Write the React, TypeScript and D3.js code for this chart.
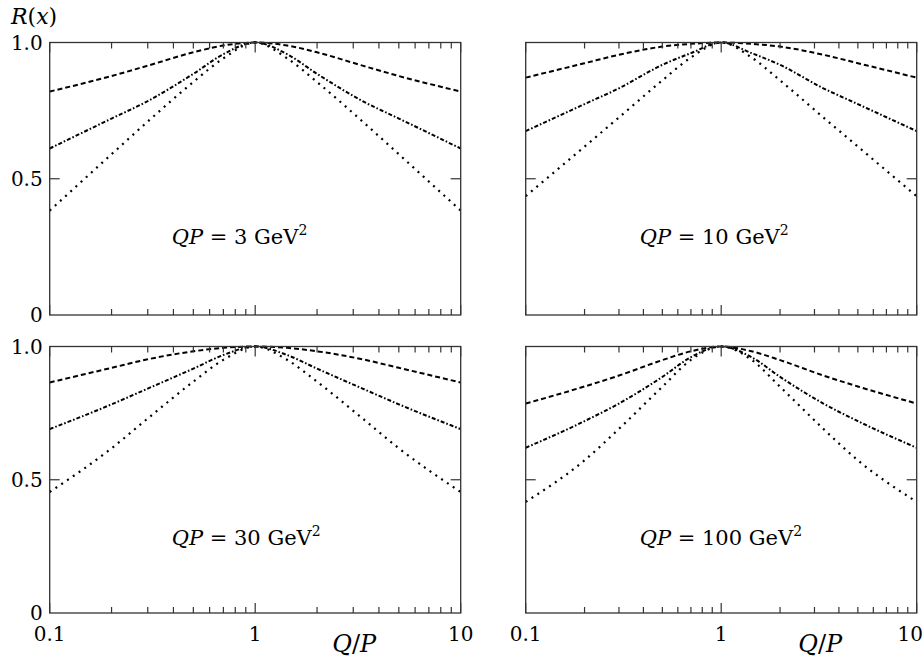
import React, { useEffect, useRef } from "react"
import * as d3 from "d3"

// Q/P sample points (symmetric around 1 on the log axis)
const qOverP = [0.1, 0.2, 0.3, 0.5, 0.7, 1, 1.43, 2, 3.33, 5, 10]
const qpValues = [3, 10, 30, 100]

// QP = 3 GeV^2
const dashed3 = [0.82, 0.877, 0.915, 0.964, 0.989, 1.0, 0.989, 0.964, 0.915, 0.877, 0.82]
const dashDot3 = [0.611, 0.721, 0.785, 0.885, 0.957, 1.0, 0.957, 0.885, 0.785, 0.721, 0.611]
const dotted3 = [0.383, 0.59, 0.71, 0.855, 0.942, 1.0, 0.942, 0.855, 0.71, 0.59, 0.383]

// QP = 10 GeV^2
const dashed10 = [0.871, 0.924, 0.955, 0.985, 0.995, 1.0, 0.995, 0.985, 0.955, 0.924, 0.871]
const dashDot10 = [0.675, 0.774, 0.832, 0.918, 0.961, 1.0, 0.961, 0.918, 0.832, 0.774, 0.675]
const dotted10 = [0.436, 0.618, 0.725, 0.861, 0.945, 1.0, 0.945, 0.861, 0.725, 0.618, 0.436]

// QP = 30 GeV^2
const dashed30 = [0.865, 0.92, 0.952, 0.982, 0.995, 1.0, 0.995, 0.982, 0.952, 0.92, 0.865]
const dashDot30 = [0.69, 0.783, 0.842, 0.917, 0.968, 1.0, 0.968, 0.917, 0.842, 0.783, 0.69]
const dotted30 = [0.454, 0.618, 0.73, 0.868, 0.95, 1.0, 0.95, 0.868, 0.73, 0.618, 0.454]

// QP = 100 GeV^2
const dashed100 = [0.786, 0.85, 0.891, 0.949, 0.982, 1.0, 0.982, 0.949, 0.891, 0.85, 0.786]
const dashDot100 = [0.62, 0.72, 0.786, 0.886, 0.96, 1.0, 0.96, 0.886, 0.786, 0.72, 0.62]
const dotted100 = [0.417, 0.573, 0.691, 0.849, 0.95, 1.0, 0.95, 0.849, 0.691, 0.573, 0.417]

const yTickValues = [0, 0.5, 1.0]
const yTickLabels = ["0", "0.5", "1.0"]
const xTickValues = [0.1, 1, 10]
const xTickLabels = ["0.1", "1", "10"]

const FONT = "'DejaVu Serif', 'Liberation Serif', serif"

const App = () => {
  const ref = useRef<SVGSVGElement>(null)

  useEffect(() => {
    const svg = d3.select(ref.current)
    svg.selectAll("*").remove()

    const panels = [
      { qp: qpValues[0], series: [dashed3, dashDot3, dotted3], x0: 49.7, x1: 460.7, y0: 42.5, y1: 315, left: true, bottom: false },
      { qp: qpValues[1], series: [dashed10, dashDot10, dotted10], x0: 525.7, x1: 916.7, y0: 42.5, y1: 315, left: false, bottom: false },
      { qp: qpValues[2], series: [dashed30, dashDot30, dotted30], x0: 49.7, x1: 460.7, y0: 346.5, y1: 613, left: true, bottom: true },
      { qp: qpValues[3], series: [dashed100, dashDot100, dotted100], x0: 525.7, x1: 916.7, y0: 346.5, y1: 613, left: false, bottom: true },
    ]

    const styles = [
      { dash: "5,3", w: 2 },
      { dash: "4,2,1.6,2", w: 2 },
      { dash: "2,5", w: 2.2 },
    ]

    panels.forEach((p) => {
      const x = d3.scaleLog().domain([0.1, 10]).range([p.x0, p.x1])
      const y = d3.scaleLinear().domain([0, 1]).range([p.y1, p.y0])
      const g = svg.append("g")

      // curves
      const line = d3
        .line<number>()
        .x((_, i) => x(qOverP[i]))
        .y((d) => y(d))
        .curve(d3.curveMonotoneX)

      p.series.forEach((s, i) => {
        g.append("path")
          .attr("d", line(s))
          .attr("fill", "none")
          .attr("stroke", "#000")
          .attr("stroke-width", styles[i].w)
          .attr("stroke-dasharray", styles[i].dash)
      })

      // frame
      g.append("rect")
        .attr("x", p.x0)
        .attr("y", p.y0)
        .attr("width", p.x1 - p.x0)
        .attr("height", p.y1 - p.y0)
        .attr("fill", "none")
        .attr("stroke", "#333")
        .attr("stroke-width", 1.3)

      // log ticks on top and bottom, inward
      x.ticks().forEach((t) => {
        const major = Math.abs(Math.log10(t) - Math.round(Math.log10(t))) < 1e-9
        const len = major ? 10 : 6
        const tx = x(t)
        g.append("line")
          .attr("x1", tx).attr("x2", tx)
          .attr("y1", p.y1).attr("y2", p.y1 - len)
          .attr("stroke", "#333").attr("stroke-width", 1.2)
        g.append("line")
          .attr("x1", tx).attr("x2", tx)
          .attr("y1", p.y0).attr("y2", p.y0 + len)
          .attr("stroke", "#333").attr("stroke-width", 1.2)
      })

      // y tick at 0.5 on both sides
      const ty = y(0.5)
      g.append("line")
        .attr("x1", p.x0).attr("x2", p.x0 + 10)
        .attr("y1", ty).attr("y2", ty)
        .attr("stroke", "#333").attr("stroke-width", 1.2)
      g.append("line")
        .attr("x1", p.x1).attr("x2", p.x1 - 10)
        .attr("y1", ty).attr("y2", ty)
        .attr("stroke", "#333").attr("stroke-width", 1.2)

      // y labels
      if (p.left) {
        yTickValues.forEach((v, i) => {
          g.append("text")
            .attr("x", p.x0 - 7)
            .attr("y", y(v))
            .attr("dy", "0.36em")
            .attr("text-anchor", "end")
            .style("font-family", FONT)
            .style("font-size", "20px")
            .text(yTickLabels[i])
        })
      }

      // x labels
      if (p.bottom) {
        xTickValues.forEach((v, i) => {
          const edge = !p.left && v === 10
          g.append("text")
            .attr("x", edge ? 923 : x(v))
            .attr("y", p.y1 + 28)
            .attr("text-anchor", edge ? "end" : "middle")
            .style("font-family", FONT)
            .style("font-size", "20px")
            .text(xTickLabels[i])
        })
        const lbl = g.append("text")
          .attr("x", x(1) + 99)
          .attr("y", p.y1 + 39)
          .attr("text-anchor", "middle")
          .style("font-family", FONT)
          .style("font-size", "24px")
        lbl.append("tspan").style("font-style", "italic").text("Q")
        lbl.append("tspan").text("/")
        lbl.append("tspan").style("font-style", "italic").text("P")
      }

      // panel annotation
      const ann = g.append("text")
        .attr("x", p.left ? p.x0 + 122 : p.x0 + 114)
        .attr("y", (p.y0 + p.y1) / 2 + 65)
        .style("font-family", FONT)
        .style("font-size", "21px")
      ann.append("tspan").style("font-style", "italic").text("QP")
      ann.append("tspan").text(` = ${p.qp} GeV`)
      ann.append("tspan").attr("dy", -9).style("font-size", "14px").text("2")
    })

    // R(x) label
    const r = svg.append("text")
      .attr("x", 11)
      .attr("y", 24)
      .style("font-family", FONT)
      .style("font-size", "22px")
    r.append("tspan").style("font-style", "italic").text("R")
    r.append("tspan").text("(")
    r.append("tspan").style("font-style", "italic").text("x")
    r.append("tspan").text(")")
  }, [])

  return (
    <svg
      ref={ref}
      width={924}
      height={657}
      style={{ position: "absolute", left: 0, top: 0, background: "#fff" }}
    ></svg>
  )
}

export default App
